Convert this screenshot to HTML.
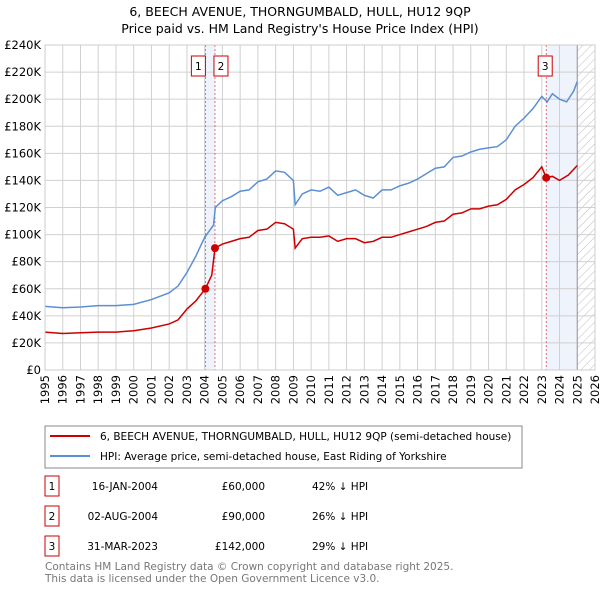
<!DOCTYPE html>
<html><head><meta charset="utf-8"><style>
body{margin:0;background:#fff;font-family:"Liberation Sans","DejaVu Sans",sans-serif}
svg text{font-family:"DejaVu Sans","Liberation Sans",sans-serif}
</style></head><body>
<svg id="c" width="600" height="590" xmlns="http://www.w3.org/2000/svg">
<defs><pattern id="hatch" width="6" height="6" patternUnits="userSpaceOnUse" patternTransform="rotate(45)"><line x1="0" y1="0" x2="0" y2="6" stroke="#bbb" stroke-width="1"/></pattern></defs>
<text x="300" y="16" text-anchor="middle" font-size="12.5" fill="#000">6, BEECH AVENUE, THORNGUMBALD, HULL, HU12 9QP</text>
<text x="300" y="33" text-anchor="middle" font-size="12.5" fill="#000">Price paid vs. HM Land Registry's House Price Index (HPI)</text>
<g id="plot"></g>
<rect x="45" y="426" width="477" height="42" fill="#fff" stroke="#888"/>
<line x1="50" y1="436" x2="90" y2="436" stroke="#cc0000" stroke-width="2"/>
<text x="100" y="440" font-size="10.5">6, BEECH AVENUE, THORNGUMBALD, HULL, HU12 9QP (semi-detached house)</text>
<line x1="50" y1="456" x2="90" y2="456" stroke="#5b8fd4" stroke-width="2"/>
<text x="100" y="460" font-size="10.5">HPI: Average price, semi-detached house, East Riding of Yorkshire</text>
<g font-size="10.5">
<rect x="45" y="476" width="14" height="20" fill="none" stroke="#cc0000"/><text x="52" y="490" text-anchor="middle">1</text>
<text x="158" y="490" text-anchor="end">16-JAN-2004</text><text x="265" y="490" text-anchor="end">£60,000</text><text x="312" y="490">42% ↓ HPI</text>
<rect x="45" y="506" width="14" height="20" fill="none" stroke="#cc0000"/><text x="52" y="520" text-anchor="middle">2</text>
<text x="158" y="520" text-anchor="end">02-AUG-2004</text><text x="265" y="520" text-anchor="end">£90,000</text><text x="312" y="520">26% ↓ HPI</text>
<rect x="45" y="536" width="14" height="20" fill="none" stroke="#cc0000"/><text x="52" y="550" text-anchor="middle">3</text>
<text x="158" y="550" text-anchor="end">31-MAR-2023</text><text x="265" y="550" text-anchor="end">£142,000</text><text x="312" y="550">29% ↓ HPI</text>
</g>
<text x="45" y="570" font-size="10.5" fill="#777">Contains HM Land Registry data © Crown copyright and database right 2025.</text>
<text x="45" y="582" font-size="10.5" fill="#777">This data is licensed under the Open Government Licence v3.0.</text>
</svg>
<script>
const hpiYears=[1995,1996,1997,1998,1999,2000,2001,2002,2002.5,2003,2003.5,2004,2004.5,2004.6,2005,2005.5,2006,2006.5,2007,2007.5,2008,2008.5,2009,2009.1,2009.5,2010,2010.5,2011,2011.5,2012,2012.5,2013,2013.5,2014,2014.5,2015,2015.5,2016,2016.5,2017,2017.5,2018,2018.5,2019,2019.5,2020,2020.5,2021,2021.5,2022,2022.5,2023,2023.3,2023.6,2024,2024.4,2024.8,2025];
const hpiValues=[47,46,46.5,47.5,47.5,48.5,52,57,62,72,84,98,107,120,125,128,132,133,139,141,147,146,140,122,130,133,132,135,129,131,133,129,127,133,133,136,138,141,145,149,150,157,158,161,163,164,165,170,180,186,193,202,198,204,200,198,206,213];
const priceYears=[1995,1996,1997,1998,1999,2000,2001,2002,2002.5,2003,2003.5,2004.04,2004.4,2004.58,2005,2005.5,2006,2006.5,2007,2007.5,2008,2008.5,2009,2009.1,2009.5,2010,2010.5,2011,2011.5,2012,2012.5,2013,2013.5,2014,2014.5,2015,2015.5,2016,2016.5,2017,2017.5,2018,2018.5,2019,2019.5,2020,2020.5,2021,2021.5,2022,2022.5,2023,2023.25,2023.6,2024,2024.5,2025];
const priceValues=[28,27,27.5,28,28,29,31,34,37,45,51,60,70,90,93,95,97,98,103,104,109,108,104,90,97,98,98,99,95,97,97,94,95,98,98,100,102,104,106,109,110,115,116,119,119,121,122,126,133,137,142,150,142,143,140,144,151];
const saleYears=[2004.04,2004.58,2023.25];
const saleValues=[60,90,142];
const saleLabels=["1","2","3"];
const yTicks=[0,20,40,60,80,100,120,140,160,180,200,220,240];
const xTicks=[];for(let y=1995;y<=2026;y++)xTicks.push(y);
const X0=45,X1=595,Y0=370,Y1=45;
const sx=y=>X0+(y-1995)*(X1-X0)/31, sy=v=>Y0-v*(Y0-Y1)/240;
const g=document.getElementById('plot'),NS='http://www.w3.org/2000/svg';
function mk(t,a){const e=document.createElementNS(NS,t);for(const k in a)e.setAttribute(k,a[k]);g.appendChild(e);return e;}
let e;
e=mk('rect',{x:sx(saleYears[0]),y:Y1,width:sx(saleYears[1])-sx(saleYears[0]),height:Y0-Y1,fill:'#eef3fc'});


e=mk('rect',{x:sx(saleYears[2]),y:Y1,width:sx(2025)-sx(saleYears[2]),height:Y0-Y1,fill:'#eef3fc'});


e=mk('rect',{x:sx(2025),y:Y1,width:X1-sx(2025),height:Y0-Y1,fill:'url(#hatch)'});


xTicks.forEach(y=>{
 e=mk('line',{x1:sx(y),x2:sx(y),y1:Y1,y2:Y0,stroke:'#d0d0d0','stroke-width':1});
 
 
 const tx=sx(y)+4, ty=Y0+5;
 e=mk('text',{x:tx,y:ty,'text-anchor':'end','font-size':'11.5',transform:'rotate(-90 '+tx+' '+ty+')'});e.textContent=y;
 
 
});
yTicks.forEach(v=>{
 e=mk('line',{x1:X0,x2:X1,y1:sy(v),y2:sy(v),stroke:'#d0d0d0','stroke-width':1});
 
 
 e=mk('text',{x:X0-4,y:sy(v)+4,'text-anchor':'end','font-size':'11.5'});e.textContent=v===0?'£0':'£'+v+'K';
 
 
});
e=mk('line',{x1:sx(2025),x2:sx(2025),y1:Y1,y2:Y0,stroke:'#999','stroke-width':1});


saleYears.forEach((y,i)=>{
 e=mk('line',{x1:sx(y),x2:sx(y),y1:Y1,y2:Y0,stroke:'#e05050','stroke-width':0.8,'stroke-dasharray':'2,2'});
 
 
});
e=mk('polyline',{points:hpiYears.map((y,i)=>sx(y)+','+sy(hpiValues[i])).join(' '),fill:'none',stroke:'#5b8fd4','stroke-width':1.5});


e=mk('polyline',{points:priceYears.map((y,i)=>sx(y)+','+sy(priceValues[i])).join(' '),fill:'none',stroke:'#cc0000','stroke-width':1.5});


saleYears.forEach((y,i)=>{
 e=mk('circle',{cx:sx(y),cy:sy(saleValues[i]),r:4,fill:'#cc0000'});
 
 
});
const boxX=[sx(saleYears[0])-14,sx(saleYears[1])-1,sx(saleYears[2])-8];
saleLabels.forEach((l,i)=>{
 e=mk('rect',{x:boxX[i],y:56,width:14,height:20,fill:'#fff',stroke:'#cc0000'});
 
 
 e=mk('text',{x:boxX[i]+7,y:70,'text-anchor':'middle','font-size':'10.5'});e.textContent=l;
 
 
});
e=mk('rect',{x:X0,y:Y1,width:X1-X0,height:Y0-Y1,fill:'none',stroke:'#ccc'});


</script>
</body></html>
